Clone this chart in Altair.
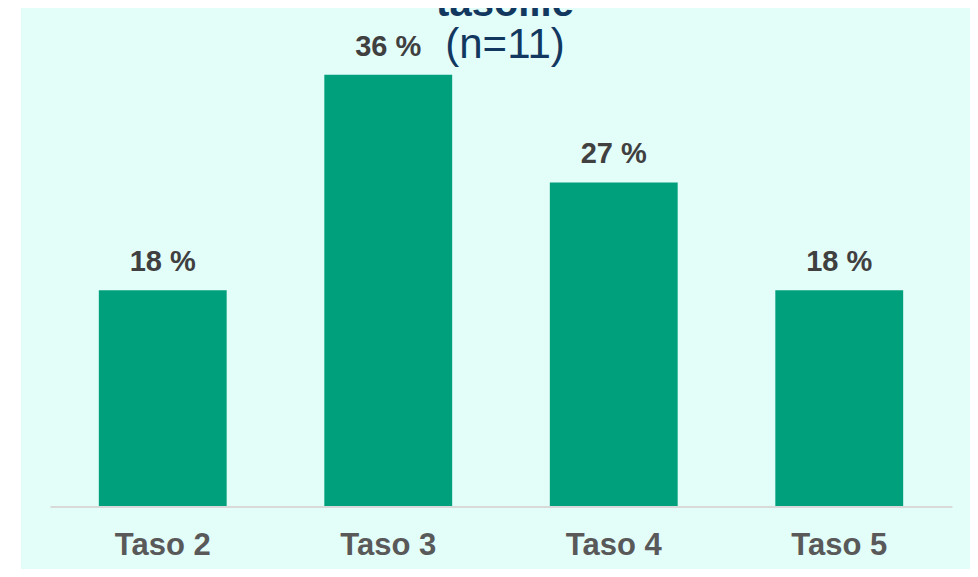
import altair as alt
import pandas as pd

categories = ["Taso 2", "Taso 3", "Taso 4", "Taso 5"]
values = [18.2, 36.4, 27.3, 18.2]
labels = ["18 %", "36 %", "27 %", "18 %"]

df = pd.DataFrame({"cat": categories, "val": values, "lab": labels})

GREEN = "#00a07c"
BG = "#e3fdf9"
NAVY = "#12385f"
FONT = "Liberation Sans"

xenc = alt.X(
    "cat:N",
    sort=categories,
    title=None,
    scale=alt.Scale(range=[29, 931], paddingInner=0.433, paddingOuter=0.2165),
    axis=alt.Axis(
        orient="bottom",
        offset=-62.5,
        domainColor="#d9d9d9",
        domainWidth=2,
        ticks=False,
        tickSize=0,
        labelFont=FONT,
        labelFontSize=31,
        labelFontWeight="bold",
        labelColor="#595959",
        labelBaseline="alphabetic",
        labelPadding=48,
        labelAngle=0,
        grid=False,
    ),
)
yenc = alt.Y("val:Q", scale=alt.Scale(domain=[0, 40], range=[498, 24]), axis=None)

bars = alt.Chart(df).mark_bar(color=GREEN).encode(x=xenc, y=yenc)
text = alt.Chart(df).mark_text(
    dy=-19, baseline="alphabetic", fontSize=29, fontWeight="bold",
    color="#404040", font=FONT
).encode(x=alt.X("cat:N", sort=categories), y=yenc, text="lab:N")

chart = (
    alt.layer(bars, text)
    .properties(
        width=949,
        height=561,
        background="white",
        padding={"left": 13, "top": 0, "right": 0, "bottom": 0},
        autosize=alt.AutoSizeParams(type="none"),
        title=alt.Title(
            "tasoille",
            subtitle="(n=11)",
            font=FONT,
            fontSize=40,
            fontWeight="bold",
            color=NAVY,
            subtitleFont=FONT,
            subtitleFontSize=42,
            subtitleFontWeight="normal",
            subtitleColor=NAVY,
            subtitlePadding=1,
            anchor="middle",
            frame="group",
            offset=-58,
            dx=9.5,
        ),
    )
    .configure_view(fill=BG, strokeWidth=0)
)

chart.save("out.html", embed_options={"renderer": "svg", "actions": False})
